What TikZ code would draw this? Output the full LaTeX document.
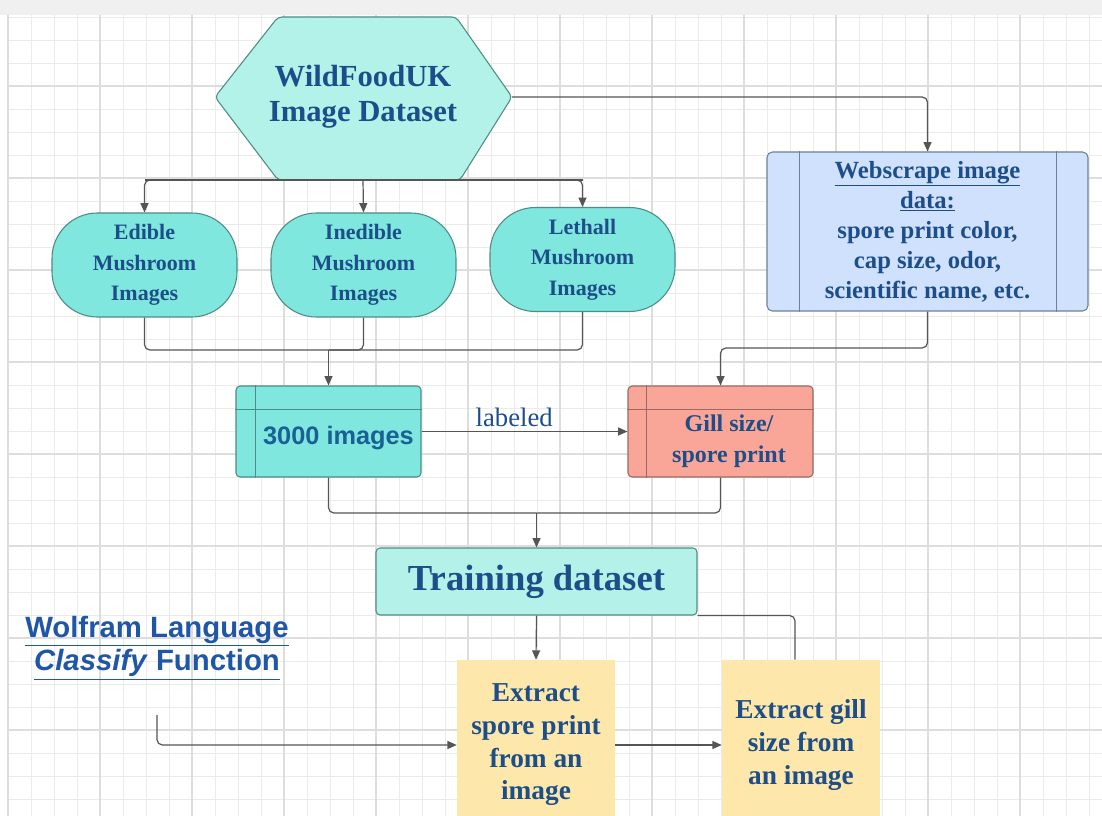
\documentclass[tikz,border=0pt]{standalone}
\usepackage{fontspec}
\setmainfont{Liberation Serif}
\setsansfont{Liberation Sans}
\usetikzlibrary{arrows.meta,calc}
\definecolor{txtblue}{HTML}{1D4E89}
\definecolor{wolfblue}{HTML}{1F56A6}
\definecolor{linegray}{HTML}{555555}
\definecolor{hexfill}{HTML}{B2F2E9}
\definecolor{mushfill}{HTML}{7FE7DD}
\definecolor{tealborder}{HTML}{4E8C85}
\definecolor{gillfill}{HTML}{F9A597}
\definecolor{gillborder}{HTML}{9A6A62}
\definecolor{webfill}{HTML}{CFE1FD}
\definecolor{webborder}{HTML}{6D809C}
\definecolor{trainfill}{HTML}{B4F1E9}
\definecolor{extfill}{HTML}{FDE7AA}
\definecolor{gridminor}{HTML}{EBEBEB}
\definecolor{gridmajor}{HTML}{DDDDDD}
\tikzset{
  every node/.style={text=txtblue, font=\bfseries},
  conn/.style={draw=linegray, line width=0.9pt, rounded corners=4pt},
  arr/.style={conn, -{Triangle[length=7pt,width=6pt]}},
  mush/.style={draw=tealborder, line width=0.8pt, fill=mushfill, rounded corners=34pt,
    minimum width=138.75pt, minimum height=78pt, align=center,
    font=\bfseries\fontsize{16.5}{23}\selectfont},
  tbox/.style={draw=tealborder, line width=0.8pt, rounded corners=3pt,
    minimum width=138.75pt, minimum height=68.25pt},
  extbox/.style={fill=extfill, minimum width=118.5pt, minimum height=127.5pt, align=center,
    font=\bfseries\fontsize{20.5}{24.5}\selectfont},
}
\begin{document}
\begin{tikzpicture}[x=0.75pt,y=-0.75pt]
\useasboundingbox (0,0) rectangle (1102,816);
\fill[white] (0,0) rectangle (1102,816);
\fill[gray!12] (0,0) rectangle (1102,15);
% grid
\foreach \x in {8,31,...,1102} \draw[gridminor, line width=0.6pt] (\x,15) -- (\x,816);
\foreach \y in {17,40,...,816} \draw[gridminor, line width=0.6pt] (7,\y) -- (1102,\y);
\foreach \x in {8,100,...,1102} \draw[gridmajor, line width=0.8pt] (\x,15) -- (\x,816);
\foreach \y in {86,178,...,816} \draw[gridmajor, line width=0.8pt] (7,\y) -- (1102,\y);

% hexagon
\draw[draw=tealborder, line width=0.8pt, fill=hexfill, rounded corners=3pt]
  (215,97) -- (278,17) -- (456,17) -- (512,97) -- (460,180) -- (278,180) -- cycle;
\node[align=center, font=\bfseries\fontsize{23}{26.5}\selectfont] (hex) at (363,97)
  {WildFoodUK\\Image Dataset};
\coordinate (hexB) at (363,180);
\coordinate (hexR) at (512,97);

% mushroom nodes
\node[mush] (edible) at (144.5,265) {Edible\\Mushroom\\Images};
\node[mush] (inedible) at (363.5,265) {Inedible\\Mushroom\\Images};
\node[mush] (lethal) at (582.5,259.5) {Lethall\\Mushroom\\Images};

% webscrape
\node[draw=webborder, line width=0.8pt, fill=webfill, rounded corners=4pt,
  minimum width=240.75pt, minimum height=119.25pt, align=center,
  font=\bfseries\fontsize{18.5}{22.5}\selectfont] (web) at (927.5,231.5)
  {\underline{Webscrape image}\\\underline{data:}\\spore print color,\\cap size, odor,\\scientific name, etc.};
\draw[webborder, line width=0.8pt] ([xshift=24.75pt]web.north west) -- ([xshift=24.75pt]web.south west);
\draw[webborder, line width=0.8pt] ([xshift=-24pt]web.north east) -- ([xshift=-24pt]web.south east);

% 3000 images
\node[tbox, fill=mushfill] (img) at (328.5,431.5) {};
\draw[tealborder, line width=0.8pt] ([xshift=15pt]img.north west) -- ([xshift=15pt]img.south west);
\draw[tealborder, line width=0.8pt] ([yshift=-18pt]img.north west) -- ([yshift=-18pt]img.north east);
\node[font=\sffamily\bfseries\fontsize{19}{22}\selectfont, text=txtblue!90!cyan] (imgt) at (338.5,438) {3000 images};

% gill size
\node[tbox, draw=gillborder, fill=gillfill] (gill) at (720.5,431.5) {};
\draw[gillborder, line width=0.8pt] ([xshift=14pt]gill.north west) -- ([xshift=14pt]gill.south west);
\draw[gillborder, line width=0.8pt] ([yshift=-18pt]gill.north west) -- ([yshift=-18pt]gill.north east);
\node[align=center, font=\bfseries\fontsize{18}{23}\selectfont] (gillt) at (729,441) {Gill size/\\spore print};

% training
\node[draw=tealborder, line width=0.8pt, fill=trainfill, rounded corners=3pt,
  minimum width=240.75pt, minimum height=50.25pt,
  font=\bfseries\fontsize{27.5}{30}\selectfont] (train) at (536.5,581.5) {Training dataset};

% extract boxes
\node[extbox] (spore) at (536,745) {Extract\\spore print\\from an\\image};
\node[extbox] (gillx) at (801,745) {Extract gill\\size from\\an image};

% wolfram
\node[align=center, text=wolfblue, font=\sffamily\bfseries\fontsize{22}{25}\selectfont] (wolf) at (157,648)
  {\underline{Wolfram Language}\\\underline{\textit{Classify} Function}};
\coordinate (wstart) at (157,715);

% connectors
\draw[arr] (hexB) -| (edible.north);
\draw[arr] (hexB) -- (inedible.north);
\draw[arr] (hexB) -| (lethal.north);
\draw[conn] (hexB -| edible.north) -- (hexB -| lethal.north);
\draw[arr] (hexR) -| (web.north);

\coordinate (J1) at (328.5,350);
\draw[conn] (edible.south) |- (J1);
\draw[conn] (inedible.south) |- (J1);
\draw[conn] (lethal.south) |- (J1);
\draw[arr] (J1) -- (img.north);

\coordinate (J2) at (720.5,348);
\draw[arr] (web.south) |- (J2) -- (gill.north);

\draw[arr] (img.east) -- node[above, font=\mdseries\fontsize{20}{22}\selectfont, pos=0.45] {labeled} (gill.west);

\coordinate (J3) at (536.5,513);
\draw[conn] (img.south) |- (J3);
\draw[conn] (gill.south) |- (J3);
\draw[arr] (J3) -- (train.north);

\draw[arr] (train.south) -- (spore.north);
\draw[conn] (train.south east) -| ([xshift=-4.5pt]gillx.north);
\draw[arr] (spore.east) -- (gillx.west);
\draw[arr] (wstart) |- (spore.west);
\end{tikzpicture}
\end{document}
